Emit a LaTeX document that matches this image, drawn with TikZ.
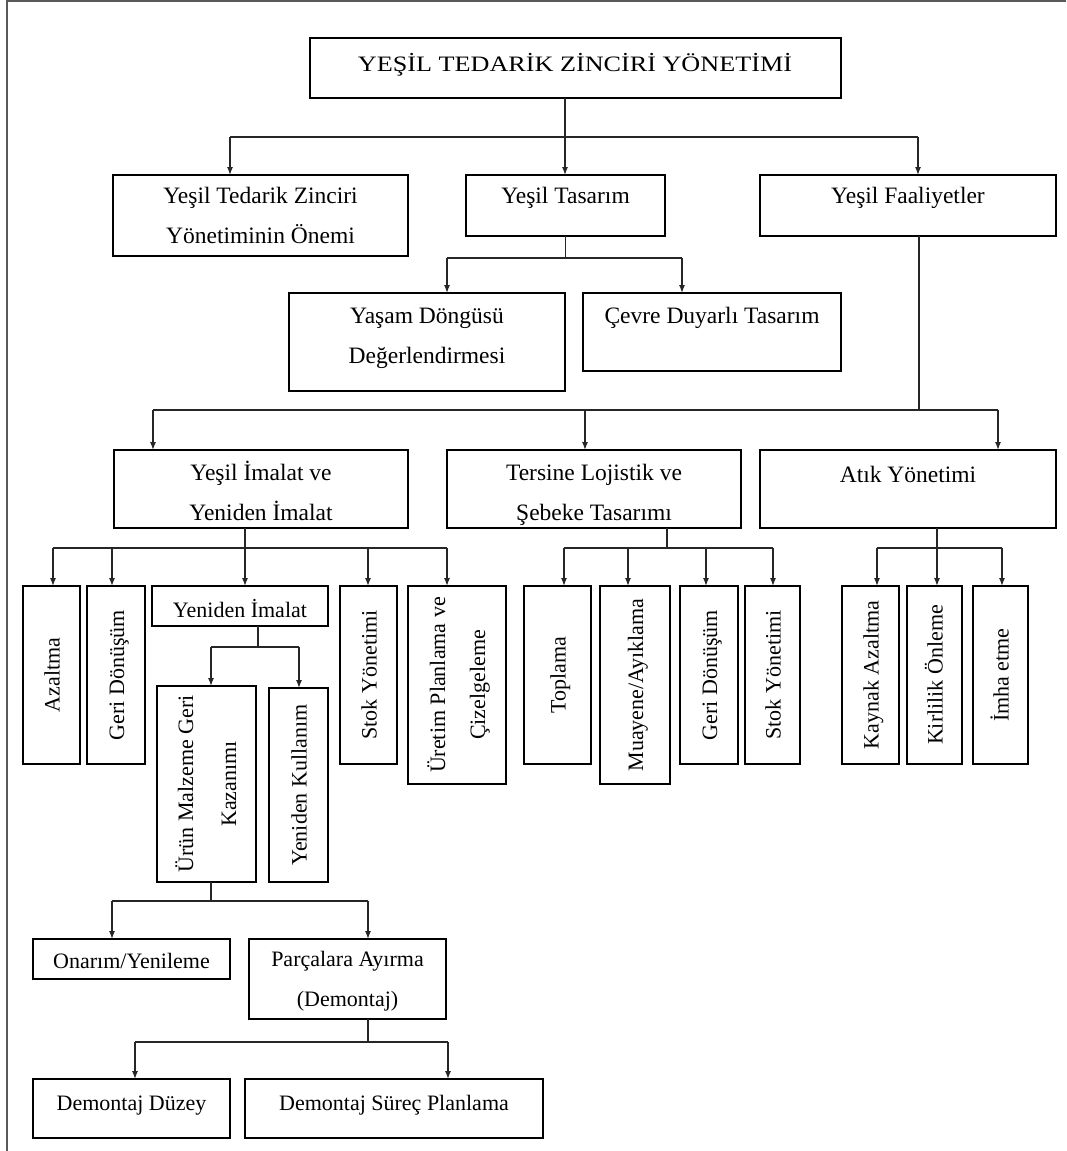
\documentclass[tikz,border=0pt]{standalone}
\usepackage{fontspec}
\setmainfont{Liberation Serif}
\newfontfamily\widefont[FakeStretch=1.19]{Liberation Serif}
\usetikzlibrary{arrows.meta}
% rectangle node from its top-left (x1,y1) to bottom-right (x2,y2) corner
\newcommand\mkbox[5]{%
  \node[box, minimum width={(#4)-(#2)}, minimum height={(#5)-(#3)}] (#1) at (#2,#3) {};}
\begin{document}
\begin{tikzpicture}[x=1pt,y=-1pt,
  box/.style={draw=black, line width=1.6pt, inner sep=0pt, outer sep=0pt, anchor=north west},
  lbl/.style={font=\fontsize{22}{40}\selectfont, align=center, inner sep=0pt},
  lblb/.style={lbl, font=\fontsize{23.5}{40}\selectfont},
  lbltop/.style={lbl, font=\widefont\fontsize{22}{40}\selectfont},
  vlbl/.style={lbl, rotate=90},
  link/.style={draw=black!85, line width=1.3pt},
  arr/.style={link, -{Latex[length=8pt,width=6pt]}},
  frame/.style={draw=black!65, line width=2pt}
]
\useasboundingbox (0,0) rectangle (1066,1151);
\fill[white] (0,0) rectangle (1066,1151);

% page frame (top and left edges)
\draw[frame] (7,1151) -- (7,1) -- (1066,1);

% ---------- boxes ----------
\mkbox{title}{310}{38}{841}{98}
\mkbox{onem}{113}{175}{408}{256}
\mkbox{tas}{466}{175}{665}{236}
\mkbox{faal}{760}{175}{1056}{236}
\mkbox{yasam}{289}{293}{565}{391}
\mkbox{cevre}{583}{293}{841}{371}
\mkbox{imalat}{114}{450}{408}{528}
\mkbox{ters}{447}{450}{741}{528}
\mkbox{atik}{760}{450}{1056}{528}
\mkbox{azalt}{23}{586}{80}{764}
\mkbox{geria}{87}{586}{145}{764}
\mkbox{yeni}{152}{586}{328}{626}
\mkbox{stoka}{340}{586}{397}{764}
\mkbox{uret}{408}{586}{506}{784}
\mkbox{urun}{157}{686}{256}{882}
\mkbox{yk}{269}{688}{328}{882}
\mkbox{onar}{33}{939}{230}{979}
\mkbox{parca}{249}{939}{446}{1019}
\mkbox{dduz}{33}{1079}{230}{1138}
\mkbox{dsur}{245}{1079}{543}{1138}
\mkbox{topl}{524}{586}{591}{764}
\mkbox{muay}{600}{586}{670}{784}
\mkbox{gerib}{680}{586}{738}{764}
\mkbox{stokb}{745}{586}{800}{764}
\mkbox{kayn}{842}{586}{899}{764}
\mkbox{kirl}{907}{586}{962}{764}
\mkbox{imha}{973}{586}{1028}{764}

% ---------- labels ----------
\node[lbltop] (title-l) at (575,63) {\strut YEŞİL TEDARİK ZİNCİRİ YÖNETİMİ};
\node[lblb] (onem-l) at (260.5,215) {\strut Yeşil Tedarik Zinciri\\\strut Yönetiminin Önemi};
\node[lblb] (tas-l) at (565.5,195) {\strut Yeşil Tasarım};
\node[lblb] (faal-l) at (908,195) {\strut Yeşil Faaliyetler};
\node[lblb] (yasam-l) at (427,335) {\strut Yaşam Döngüsü\\\strut Değerlendirmesi};
\node[lblb] (cevre-l) at (712,315) {\strut Çevre Duyarlı Tasarım};
\node[lblb] (imalat-l) at (261,492) {\strut Yeşil İmalat ve\\\strut Yeniden İmalat};
\node[lblb] (ters-l) at (594,492) {\strut Tersine Lojistik ve\\\strut Şebeke Tasarımı};
\node[lblb] (atik-l) at (908,474) {\strut Atık Yönetimi};
\node[lbl] (yeni-l) at (240,609) {\strut Yeniden İmalat};
\node[lbl] (onar-l) at (131.5,960) {\strut Onarım/Yenileme};
\node[lbl] (parca-l) at (347.5,978) {\strut Parçalara Ayırma\\\strut (Demontaj)};
\node[lbl] (dduz-l) at (131.5,1102) {\strut Demontaj Düzey};
\node[lbl] (dsur-l) at (394,1102) {\strut Demontaj Süreç Planlama};

\node[vlbl] (azalt-l) at (azalt.center) {\strut Azaltma};
\node[vlbl] (geria-l) at (geria.center) {\strut Geri Dönüşüm};
\node[vlbl] (stoka-l) at (stoka.center) {\strut Stok Yönetimi};
\node[vlbl] (uret-l) at (uret.center) {\strut Üretim Planlama ve\\\strut Çizelgeleme};
\node[vlbl] (urun-l) at (urun.center) {\strut Ürün Malzeme Geri\\[3pt]\strut Kazanımı};
\node[vlbl] (yk-l) at (yk.center) {\strut Yeniden Kullanım};
\node[vlbl] (topl-l) at (topl.center) {\strut Toplama};
\node[vlbl] (muay-l) at (muay.center) {\strut Muayene/Ayıklama};
\node[vlbl] (gerib-l) at (gerib.center) {\strut Geri Dönüşüm};
\node[vlbl] (stokb-l) at (stokb.center) {\strut Stok Yönetimi};
\node[vlbl] (kayn-l) at (kayn.center) {\strut Kaynak Azaltma};
\node[vlbl] (kirl-l) at (kirl.center) {\strut Kirlilik Önleme};
\node[vlbl] (imha-l) at (imha.center) {\strut İmha etme};

% ---------- connectors ----------
% top level
\coordinate (t1) at (230,137);
\coordinate (t2) at (565,137);
\coordinate (t3) at (918,137);
\draw[link] (title.south -| t2) -- (t2);
\draw[link] (t1) -- (t3);
\draw[arr] (t1) -- (t1 |- onem.north);
\draw[arr] (t2) -- (t2 |- tas.north);
\draw[arr] (t3) -- (t3 |- faal.north);

% green design
\coordinate (s1) at (447,258);
\coordinate (s2) at (682,258);
\draw[link] (tas.south) -- (tas.south |- s1);
\draw[link] (s1) -- (s2);
\draw[arr] (s1) -- (s1 |- yasam.north);
\draw[arr] (s2) -- (s2 |- cevre.north);

% green activities
\coordinate (f0) at (919,410);
\coordinate (f1) at (153,410);
\coordinate (f2) at (585,410);
\coordinate (f3) at (998,410);
\draw[link] (faal.south -| f0) -- (f0);
\draw[link] (f1) -- (f3);
\draw[arr] (f1) -- (f1 |- imalat.north);
\draw[arr] (f2) -- (f2 |- ters.north);
\draw[arr] (f3) -- (f3 |- atik.north);

% manufacturing
\coordinate (m1) at (53,548);
\coordinate (m2) at (112,548);
\coordinate (m3) at (245,548);
\coordinate (m4) at (368,548);
\coordinate (m5) at (447,548);
\draw[link] (imalat.south -| m3) -- (m3);
\draw[link] (m1) -- (m5);
\draw[arr] (m1) -- (m1 |- azalt.north);
\draw[arr] (m2) -- (m2 |- geria.north);
\draw[arr] (m3) -- (m3 |- yeni.north);
\draw[arr] (m4) -- (m4 |- stoka.north);
\draw[arr] (m5) -- (m5 |- uret.north);

% reverse logistics
\coordinate (r0) at (667,548);
\coordinate (r1) at (564,548);
\coordinate (r2) at (628,548);
\coordinate (r3) at (706,548);
\coordinate (r4) at (773,548);
\draw[link] (ters.south -| r0) -- (r0);
\draw[link] (r1) -- (r4);
\draw[arr] (r1) -- (r1 |- topl.north);
\draw[arr] (r2) -- (r2 |- muay.north);
\draw[arr] (r3) -- (r3 |- gerib.north);
\draw[arr] (r4) -- (r4 |- stokb.north);

% waste management
\coordinate (a1) at (877,548);
\coordinate (a2) at (937,548);
\coordinate (a3) at (1002,548);
\draw[link] (atik.south -| a2) -- (a2);
\draw[link] (a1) -- (a3);
\draw[arr] (a1) -- (a1 |- kayn.north);
\draw[arr] (a2) -- (a2 |- kirl.north);
\draw[arr] (a3) -- (a3 |- imha.north);

% remanufacturing
\coordinate (y0) at (258,647);
\coordinate (y1) at (211,647);
\coordinate (y2) at (299,647);
\draw[link] (yeni.south -| y0) -- (y0);
\draw[link] (y1) -- (y2);
\draw[arr] (y1) -- (y1 |- urun.north);
\draw[arr] (y2) -- (y2 |- yk.north);

% product recovery
\coordinate (u0) at (211,901);
\coordinate (u1) at (112,901);
\coordinate (u2) at (368,901);
\draw[link] (urun.south -| u0) -- (u0);
\draw[link] (u1) -- (u2);
\draw[arr] (u1) -- (u1 |- onar.north);
\draw[arr] (u2) -- (u2 |- parca.north);

% disassembly
\coordinate (p0) at (368,1042);
\coordinate (p1) at (135,1042);
\coordinate (p2) at (448,1042);
\draw[link] (parca.south -| p0) -- (p0);
\draw[link] (p1) -- (p2);
\draw[arr] (p1) -- (p1 |- dduz.north);
\draw[arr] (p2) -- (p2 |- dsur.north);
\end{tikzpicture}
\end{document}
